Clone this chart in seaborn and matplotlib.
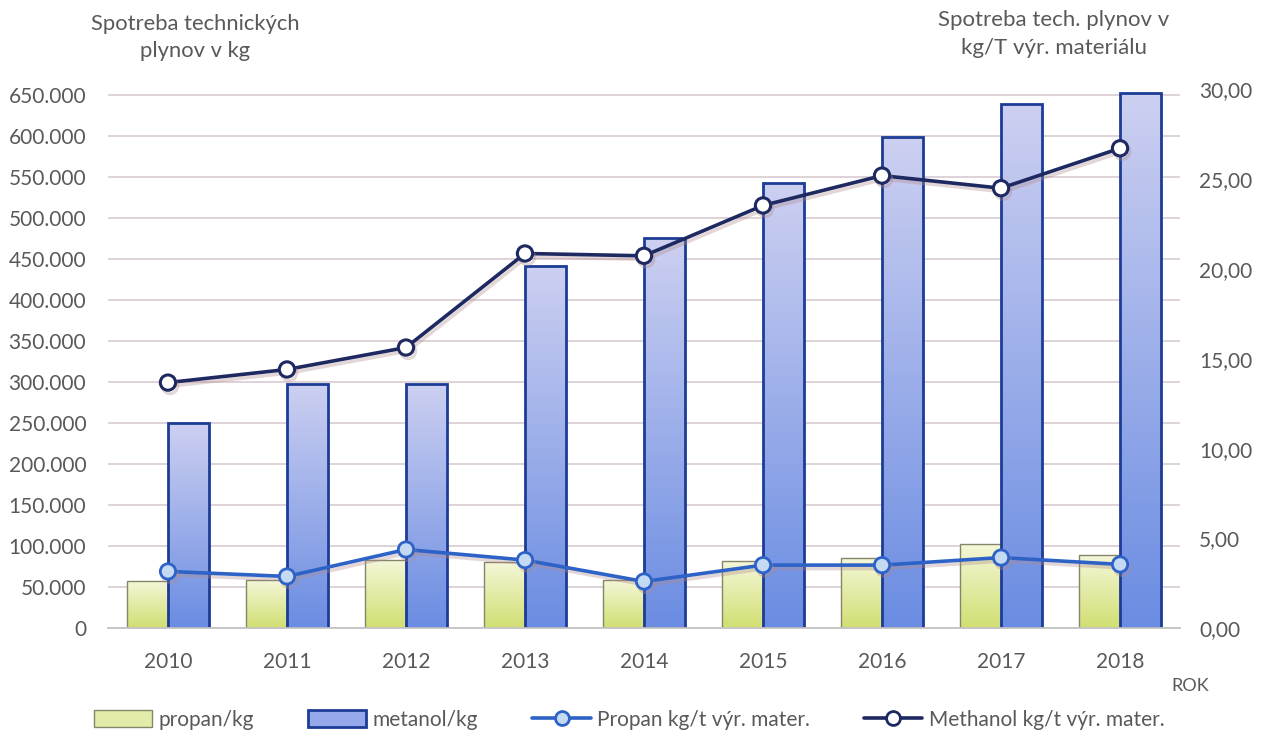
import numpy as np
import pandas as pd
import matplotlib
matplotlib.use('Agg')
import matplotlib.pyplot as plt
import matplotlib.patheffects as pe
from matplotlib.lines import Line2D
from matplotlib.patches import Patch
from matplotlib.colors import to_rgb
import seaborn as sns

# ---------------- data ----------------
years = ['2010', '2011', '2012', '2013', '2014', '2015', '2016', '2017', '2018']
propan_kg = [58000, 59000, 83500, 81500, 59500, 82500, 86500, 103500, 90000]
metanol_kg = [250000, 298000, 298000, 442000, 476000, 543000, 599000, 640000, 653000]
propan_rate = [3.17, 2.89, 4.39, 3.80, 2.61, 3.52, 3.52, 3.94, 3.56]
methanol_rate = [13.67, 14.40, 15.62, 20.85, 20.72, 23.52, 25.18, 24.48, 26.70]
left_ticks = [0, 50000, 100000, 150000, 200000, 250000, 300000, 350000,
              400000, 450000, 500000, 550000, 600000, 650000]
right_ticks = [0, 5, 10, 15, 20, 25, 30]
bar_names = ['propan/kg', 'metanol/kg']
line_names = ['Propan kg/t výr. mater.', 'Methanol kg/t výr. mater.']

# ---------------- style ----------------
sns.set_theme(style='white')
plt.rcParams['font.family'] = ['Lato', 'DejaVu Sans']
TXT = '#595959'

fig = plt.figure(figsize=(12.76, 7.35), dpi=100)
ax = fig.add_axes([0.085, 0.145, 0.8394, 0.734])

df = pd.DataFrame({
    'year': years * 2,
    'series': [bar_names[0]] * len(years) + [bar_names[1]] * len(years),
    'value': propan_kg + metanol_kg,
})
sns.barplot(data=df, x='year', y='value', hue='series', hue_order=bar_names,
            palette=['#e3eba8', '#94a8ea'], width=0.69, saturation=1,
            ax=ax, legend=False, zorder=2)

ax.set_ylim(0, 658000)

# gradient fills clipped to the bars
grads = {
    0: (('#d1df72', '#f5f7da'), '#85856a', 1.0),
    1: (('#6a8ce2', '#cdd0f1'), '#1c3c96', 2.0),
}
for ci, cont in enumerate(ax.containers):
    (c_bot, c_top), edge, lw = grads[ci]
    cb, ct = np.array(to_rgb(c_bot)), np.array(to_rgb(c_top))
    t = np.linspace(0, 1, 256)[:, None]
    arr = (cb[None, :] * (1 - t) + ct[None, :] * t)[:, None, :]
    for bar in cont:
        x0, w, h = bar.get_x(), bar.get_width(), bar.get_height()
        im = ax.imshow(arr, extent=[x0, x0 + w, 0, h], origin='lower',
                       aspect='auto', zorder=2.1, interpolation='bilinear')
        im.set_clip_path(bar)
        bar.set_facecolor('none')
        bar.set_edgecolor(edge)
        bar.set_linewidth(lw)
        bar.set_zorder(2.2)

ax.set_xlim(-0.5, 8.5)
ax.set_ylim(0, 658000)
ax.set_yticks(left_ticks)
ax.set_yticklabels(['0' if v == 0 else f'{v:,}'.replace(',', '.') for v in left_ticks])
ax.yaxis.grid(True, color='#dccfd7', lw=1.3)
ax.set_axisbelow(True)
ax.tick_params(axis='y', length=0, pad=16, labelsize=15, labelcolor=TXT)
ax.tick_params(axis='x', length=0, pad=17, labelsize=15, labelcolor=TXT)
ax.set_xlabel('')
ax.set_ylabel('')
for s in ['top', 'left', 'right']:
    ax.spines[s].set_visible(False)
ax.spines['bottom'].set_color('#c4c4c4')
ax.spines['bottom'].set_linewidth(1.3)
ax.patch.set_alpha(0)

# secondary axis with lines
ax2 = ax.twinx()
xpos = np.arange(len(years))
shadow = [pe.SimpleLineShadow(offset=(1.5, -2.5), shadow_color='#b08a8a', alpha=0.35),
          pe.Normal()]
sns.lineplot(x=xpos, y=methanol_rate, ax=ax2, color='#1d2960', lw=2.6,
             marker='o', markersize=11, markerfacecolor='white',
             markeredgecolor='#1d2960', markeredgewidth=2.2)
ax2.lines[-1].set_path_effects(shadow)
sns.lineplot(x=xpos, y=propan_rate, ax=ax2, color='#2d62c6', lw=2.6,
             marker='o', markersize=11, markerfacecolor='#c4daf3',
             markeredgecolor='#2d62c6', markeredgewidth=2.0)
ax2.lines[-1].set_path_effects(shadow)

ax2.set_ylim(0, 30)
ax2.set_yticks(right_ticks)
ax2.set_yticklabels([f'{v:.2f}'.replace('.', ',') for v in right_ticks])
ax2.tick_params(axis='y', length=0, pad=14, labelsize=15, labelcolor=TXT)
ax2.set_xlabel('')
ax2.set_ylabel('')
for s in ax2.spines.values():
    s.set_visible(False)
ax2.grid(False)
ax.set_xlim(-0.5, 8.5)

# titles
fig.text(195 / 1276, 1 - 37.5 / 735, 'Spotreba technických\nplynov v kg',
         ha='center', va='center', fontsize=15.8, color=TXT, linespacing=1.42)
fig.text(1054 / 1276, 1 - 34 / 735, 'Spotreba tech. plynov v\nkg/T výr. materiálu',
         ha='center', va='center', fontsize=16, color=TXT, linespacing=1.45)
fig.text(1190 / 1276, 1 - 686 / 735, 'ROK', ha='center', va='center',
         fontsize=13, color=TXT)

# legend
handles = [
    Patch(facecolor='#e3eba8', edgecolor='#85856a', lw=1.0),
    Patch(facecolor='#94a8ea', edgecolor='#1c3c96', lw=2.0),
    Line2D([0], [0], color='#2d62c6', lw=2.6, marker='o', markersize=10,
           markerfacecolor='#c4daf3', markeredgecolor='#2d62c6', markeredgewidth=2),
    Line2D([0], [0], color='#1d2960', lw=2.6, marker='o', markersize=10,
           markerfacecolor='white', markeredgecolor='#1d2960', markeredgewidth=2),
]
fig.legend(handles, bar_names + line_names, loc='center',
           bbox_to_anchor=(0.493, 1 - 720 / 735), ncol=4, frameon=False,
           fontsize=15, handlelength=2.8, handleheight=0.9, columnspacing=2.6,
           handletextpad=0.3, labelcolor=TXT)

fig.savefig('out.png', dpi=100, facecolor='white')
